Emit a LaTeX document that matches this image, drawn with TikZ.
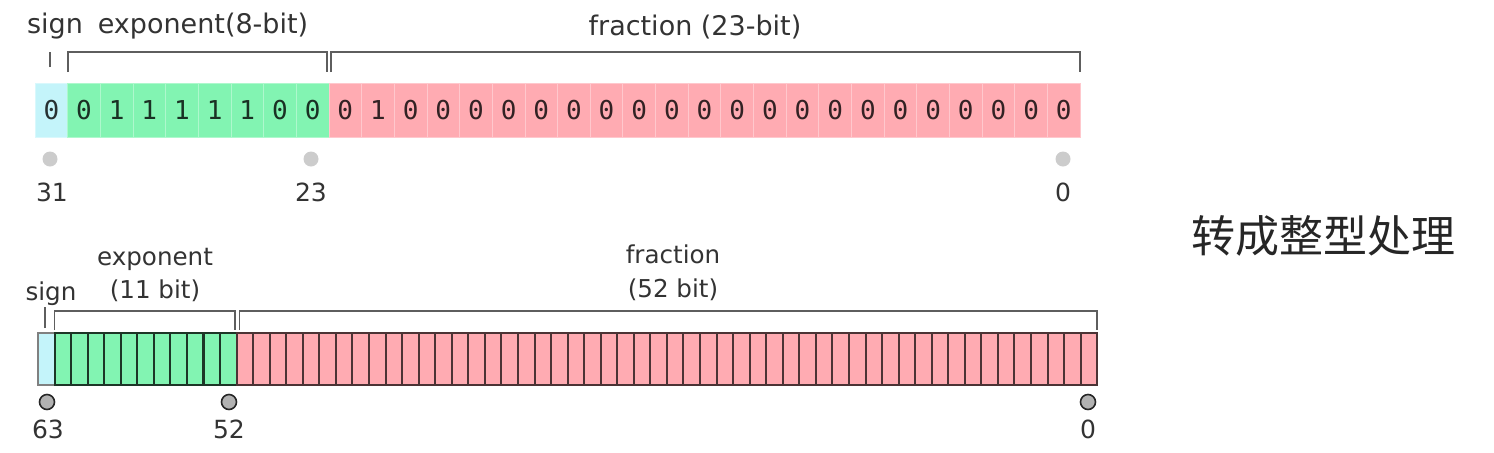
\documentclass[tikz,border=0pt]{standalone}
\usepackage{fontspec}
\setmainfont{DejaVu Sans}
\newfontfamily\bitfont{DejaVu Sans Mono}
\newfontfamily\cjkfont{Noto Sans CJK SC}
\usepackage{xcolor}
\usepackage{tikz}
\usetikzlibrary{positioning, calc}
\definecolor{sgncol}{HTML}{C4F4FA}
\definecolor{expcol}{HTML}{82F4B2}
\definecolor{fraccol}{HTML}{FFABB2}
\definecolor{brkcol}{HTML}{5E5E5E}
\definecolor{lblcol}{HTML}{333333}
\tikzset{
  tcell/.style={rectangle, minimum width=16.33pt, minimum height=27pt, inner sep=0pt,
                outer sep=0pt, line width=0.4pt, font=\bitfont\fontsize{13}{15}\selectfont},
  tsgn/.style={tcell, fill=sgncol, draw=white!35!sgncol, text=sgncol!20!black},
  texp/.style={tcell, fill=expcol, draw=white!35!expcol, text=expcol!20!black},
  tfrac/.style={tcell, fill=fraccol, draw=white!35!fraccol, text=fraccol!20!black},
  bcell/.style={rectangle, minimum width=8.27pt, minimum height=26pt, inner sep=0pt,
                outer sep=0pt, line width=1pt},
  bsgn/.style={bcell, fill=sgncol, draw=gray},
  bexp/.style={bcell, fill=expcol, draw=expcol!22!black},
  bfrac/.style={bcell, fill=fraccol, draw=fraccol!30!black},
  brk/.style={draw=brkcol, line width=0.9pt},
  lbl/.style={font=\fontsize{13.5}{15}\selectfont, text=lblcol, anchor=base, inner sep=0pt},
  slbl/.style={lbl, font=\fontsize{12.3}{14}\selectfont},
  num/.style={lbl, font=\fontsize{12.5}{14}\selectfont},
  tdot/.style={circle, fill=gray!40, minimum size=7.5pt, inner sep=0pt},
  bdot/.style={circle, fill=gray!60, draw=gray!30!black, minimum size=7.5pt, inner sep=0pt,
               line width=0.8pt}
}
\begin{document}
\begin{tikzpicture}[x=0.5pt, y=-0.5pt]
  \useasboundingbox (0,0) rectangle (1494,452);
  % single precision, 32 bit
  \node[tsgn] (t0) at ({35+32.66*0.5},110) {0};
  \foreach \b [count=\i] in {0,1,1,1,1,1,0,0}
    \node[texp] (t\i) at ({35+32.66*(\i+0.5)},110) {\b};
  \foreach \b [count=\i from 9] in {0,1,0,0,0,0,0,0,0,0,0,0,0,0,0,0,0,0,0,0,0,0,0}
    \node[tfrac] (t\i) at ({35+32.66*(\i+0.5)},110) {\b};
  \draw[brk] ([xshift=-0.6pt,yshift=8pt]t0.north) -- ([xshift=-0.6pt,yshift=15.5pt]t0.north);
  \draw[brk] ([yshift=5.5pt]t1.north west) -- ([yshift=15.5pt]t1.north west)
    -- ([xshift=-1pt,yshift=15.5pt]t8.north east) -- ([xshift=-1pt,yshift=5.5pt]t8.north east);
  \draw[brk] ([xshift=1pt,yshift=5.5pt]t9.north west) -- ([xshift=1pt,yshift=15.5pt]t9.north west)
    -- ([yshift=15.5pt]t31.north east) -- ([yshift=5.5pt]t31.north east);
  \node[lbl] (tsign) at (55,33) {sign};
  \node[lbl] (texpo) at (203,33) {exponent(8-bit)};
  \node[lbl] (tfrac) at (695,35) {fraction (23-bit)};
  \node[tdot] (d31) at (50,159) {};
  \node[tdot] (d23) at (311,159) {};
  \node[tdot] (d0) at (1063,159) {};
  \node[num] (n31) at (52,201) {31};
  \node[num] (n23) at (311,201) {23};
  \node[num] (n0) at (1063,201) {0};
  % double precision, 64 bit
  \node[bsgn] (b0) at ({38+16.55*0.5},359) {};
  \foreach \i in {1,...,11}
    \node[bexp] (b\i) at ({38+16.55*(\i+0.5)},359) {};
  \foreach \i in {12,...,63}
    \node[bfrac] (b\i) at ({38+16.55*(\i+0.5)},359) {};
  \draw[brk] ([xshift=-0.5pt,yshift=2.5pt]b0.north) -- ([xshift=-0.5pt,yshift=13pt]b0.north);
  \draw[brk] ([yshift=1.5pt]b1.north west) -- ([yshift=11pt]b1.north west)
    -- ([xshift=-0.6pt,yshift=11pt]b11.north east) -- ([xshift=-0.6pt,yshift=1.5pt]b11.north east);
  \draw[brk] ([xshift=1.4pt,yshift=1.5pt]b12.north west) -- ([xshift=1.4pt,yshift=11pt]b12.north west)
    -- ([yshift=11pt]b63.north east) -- ([yshift=1.5pt]b63.north east);
  \node[slbl] (bsign) at (51,300) {sign};
  \node[slbl] (bexpo) at (155,265) {exponent};
  \node[slbl] (bexpw) at (155,298) {(11 bit)};
  \node[slbl] (bfrac) at (673,263) {fraction};
  \node[slbl] (bfracw) at (673,297) {(52 bit)};
  \node[bdot] (d63) at (47,402) {};
  \node[bdot] (d52) at (229,402) {};
  \node[bdot] (e0) at (1088,402) {};
  \node[num] (n63) at (48,438) {63};
  \node[num] (n52) at (229,438) {52};
  \node[num] (m0) at (1088,438) {0};
  % note on the right
  \node[font=\cjkfont\fontsize{22}{26}\selectfont, text=black!85] (cvt) at (1323,236) {转成整型处理};
\end{tikzpicture}
\end{document}
